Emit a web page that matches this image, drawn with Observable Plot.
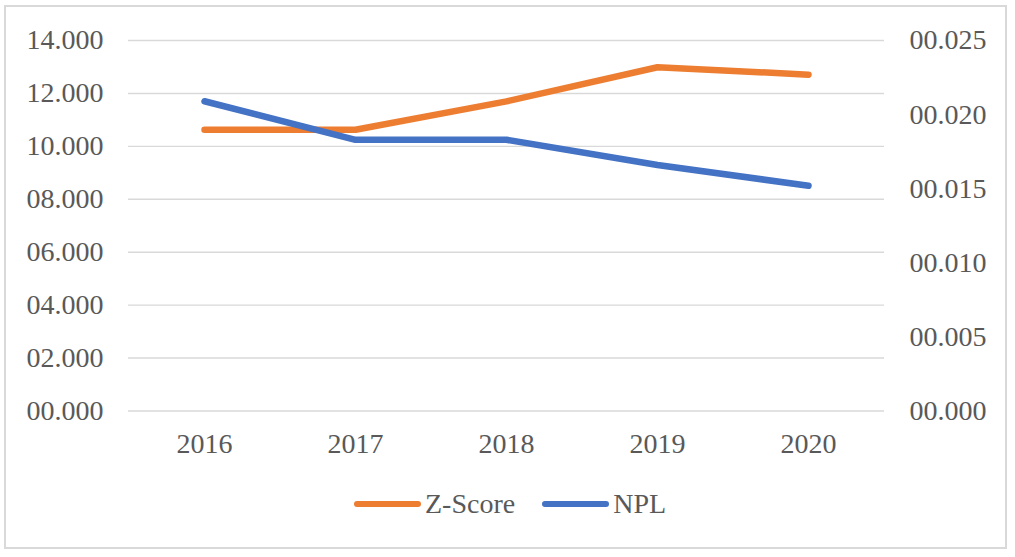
<!DOCTYPE html>
<html>
<head>
<meta charset="utf-8">
<script src="https://cdn.jsdelivr.net/npm/d3@7"></script>
<script src="https://cdn.jsdelivr.net/npm/@observablehq/plot@0.6"></script>
<style>
  html, body { margin: 0; padding: 0; background: #fff; }
  #page { position: relative; width: 1015px; height: 557px; overflow: hidden; }
  #frame {
    position: absolute; left: 4px; top: 5px; width: 1003px; height: 544px;
    box-sizing: border-box; border: 2px solid #d9d9d9;
  }
  #chart { position: absolute; left: 0; top: 0; }
  #legend {
    position: absolute; left: 354px; top: 488px; display: flex; align-items: center;
    font-family: "Liberation Serif", "Times New Roman", serif; font-size: 28px; color: #595959;
  }
  .swatch { width: 67px; height: 6.5px; border-radius: 3.25px; margin-right: 4px; }
  .item { display: flex; align-items: center; margin-right: 27px; }
</style>
</head>
<body>
<div id="page">
  <div id="frame"></div>
  <div id="chart"></div>
  <div id="legend"></div>
</div>
<script>
// Years on the category axis
const years = ["2016", "2017", "2018", "2019", "2020"];
// Z-Score (left axis)
const zScore = [10.63, 10.63, 11.70, 12.99, 12.71];
// NPL ratio (right axis)
const npl = [0.0209, 0.0183, 0.0183, 0.0166, 0.0152];
// Tick values for both axes
const leftTicks = [0, 2, 4, 6, 8, 10, 12, 14];
const rightTicks = [0, 0.005, 0.010, 0.015, 0.020, 0.025];

const seriesNames = ["Z-Score", "NPL"];
const seriesColors = ["#ED7D31", "#4472C4"];

// NPL is drawn against the left scale, rescaled so 0.025 lines up with 14
const leftMax = 14, rightMax = 0.025;
const k = leftMax / rightMax;
const fmt = d3.format("06.3f");

const zData = years.map((y, i) => ({year: y, value: zScore[i]}));
const nData = years.map((y, i) => ({year: y, value: npl[i] * k}));

const chart = Plot.plot({
  width: 1015,
  height: 470,
  marginLeft: 128,
  marginRight: 131,
  marginTop: 40,
  marginBottom: 59.5,
  style: {
    fontFamily: "Liberation Serif, Times New Roman, serif",
    fontSize: "28px",
    color: "#595959",
    background: "transparent",
    overflow: "visible"
  },
  x: {type: "point", domain: years, padding: 0.5},
  y: {domain: [0, leftMax]},
  marks: [
    Plot.ruleY(leftTicks, {stroke: "#d9d9d9", strokeWidth: 1.4}),
    Plot.axisX({tickSize: 0, tickPadding: 22, label: null}),
    Plot.axisY({ticks: leftTicks, anchor: "left", tickSize: 0, tickPadding: 25, tickFormat: fmt, label: null}),
    Plot.axisY({
      ticks: rightTicks.map(d => d * k), anchor: "right", tickSize: 0, tickPadding: 25,
      tickFormat: d => fmt(d / k), label: null
    }),
    Plot.line(zData, {x: "year", y: "value", stroke: seriesColors[0], strokeWidth: 6.5,
      strokeLinecap: "round", strokeLinejoin: "round"}),
    Plot.line(nData, {x: "year", y: "value", stroke: seriesColors[1], strokeWidth: 6.5,
      strokeLinecap: "round", strokeLinejoin: "round"})
  ]
});
document.getElementById("chart").appendChild(chart);

// Legend below the plot
const legend = document.getElementById("legend");
seriesNames.forEach((name, i) => {
  const item = document.createElement("div");
  item.className = "item";
  const sw = document.createElement("div");
  sw.className = "swatch";
  sw.style.background = seriesColors[i];
  const label = document.createElement("span");
  label.textContent = name;
  item.appendChild(sw);
  item.appendChild(label);
  legend.appendChild(item);
});
</script>
</body>
</html>
